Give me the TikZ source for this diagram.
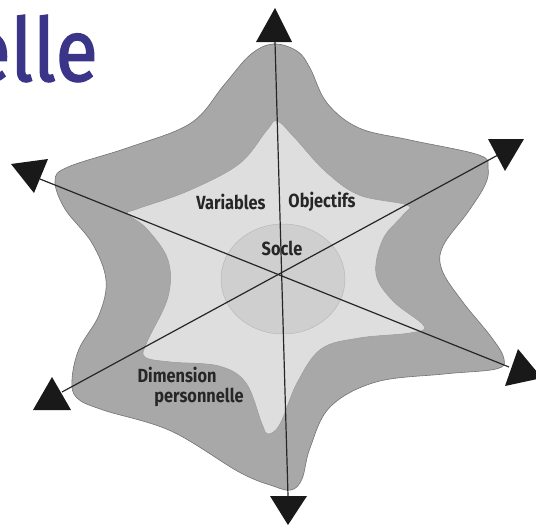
\documentclass[tikz,border=0pt]{standalone}
\usepackage{fontspec}
\setmainfont{Fira Sans}
\newfontfamily\lblfont[FakeStretch=0.86]{Fira Sans}
\newfontfamily\titlefont[FakeBold=1.6,FakeStretch=0.88]{Fira Sans}
\begin{document}
\begin{tikzpicture}[x=1pt,y=-1pt,
  innershape/.style={fill=black!13, draw=black!40, line width=0.5pt},
  socleshape/.style={fill=black!19, draw=black!28, line width=0.5pt},
  axis/.style={draw=black!85, line width=1.2pt},
  tip/.style={fill=black!90},
  lbl/.style={font=\lblfont\bfseries\fontsize{19}{21}\selectfont, text=black!85, inner sep=0pt}]
\useasboundingbox (0,0) rectangle (536,528);
\definecolor{titleblue}{HTML}{3A3589}
\begin{scope}
\clip (0,0) rectangle (536,528);
\node[anchor=base east, inner sep=0pt, text=titleblue, font=\titlefont\fontsize{88}{92}\selectfont] (title) at (98,81) {personnelle};
% outer shape
\path[fill=black!34, draw=black!55, line width=0.6pt] plot[smooth cycle, tension=0.6] coordinates {
 (273,44) (297,51) (310,68) (327,103) (359,128) (410,140) (479,155) (488,168)
 (485,185) (468,212) (443,246) (442,270) (462,301) (492,338) (504,359) (496,369)
 (444,374) (376,382) (330,407) (310,448) (302,479) (291,490) (273,486) (239,472)
 (171,431) (103,410) (77,398) (72,380) (79,349) (99,315) (106,280) (92,243)
 (65,209) (55,181) (68,167) (130,147) (191,123) (224,85) (250,55)};
% inner shape
\path[innershape] plot[smooth cycle, tension=0.6] coordinates {
 (277,121) (294,137) (325,171) (359,195) (407,205) (403,215) (383,239) (376,274)
 (393,301) (424,326) (410,333) (359,338) (321,349) (297,383) (280,424) (268,434)
 (262,424) (246,383) (219,366) (171,362) (145,357) (147,342) (168,297) (168,260)
 (147,229) (128,214) (137,209) (188,191) (239,164) (267,130)};
% socle
\path[socleshape] (283,279) ellipse [x radius=62, y radius=55];
\end{scope}
% axes
\coordinate (tN) at (275,42);
\coordinate (tS) at (288,496);
\coordinate (tUL) at (40,179);
\coordinate (tLR) at (509,367);
\coordinate (tLL) at (62,392);
\coordinate (tUR) at (498,155);
\draw[axis] (tN) -- (tS);
\draw[axis] (tUL) -- (tLR);
\draw[axis] (tLL) -- (tUR);
% tips
\fill[tip] (275,8) -- (256,42) -- (292,42) -- cycle;
\fill[tip] (270,496) -- (307,496) -- (288,525) -- cycle;
\fill[tip] (488,139) -- (524,139) -- (505,171) -- cycle;
\fill[tip] (11,164) -- (48,159) -- (34,193) -- cycle;
\fill[tip] (52,377) -- (33,410) -- (71,410) -- cycle;
\begin{scope}
\clip (0,0) rectangle (536,528);
\fill[tip] (518,349) -- (542,378) -- (505,386) -- cycle;
\end{scope}
% labels
\node[lbl] (var) at (231,202) {Variables};
\node[lbl] (obj) at (322,202) {Objectifs};
\node[lbl] (soc) at (282,248) {Socle};
\node[lbl] (dim) at (177,375) {Dimension};
\node[lbl] (pers) at (199,397) {personnelle};
\end{tikzpicture}
\end{document}
